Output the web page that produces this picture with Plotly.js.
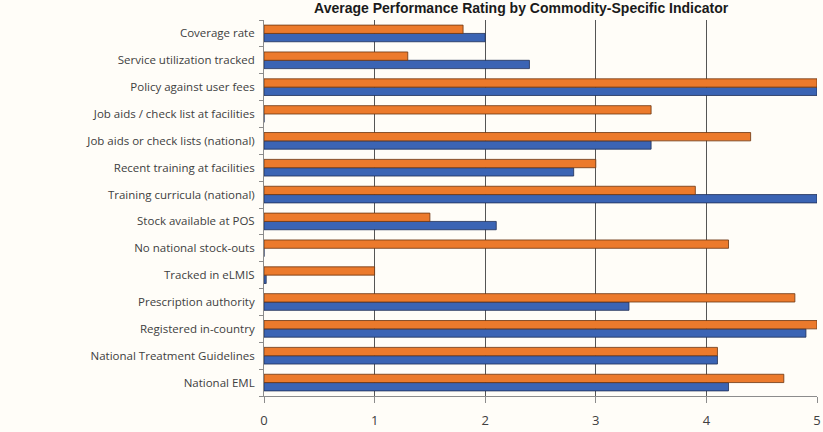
<!DOCTYPE html>
<html>
<head>
<meta charset="utf-8">
<script src="https://cdn.plot.ly/plotly-3.0.1.min.js"></script>
<style>
html,body{margin:0;padding:0;background:#fffdf8;}
#chart{width:823px;height:432px;}
</style>
</head>
<body>
<div id="chart"></div>
<script>
// categories listed bottom to top
const categories = [
  "National EML",
  "National Treatment Guidelines",
  "Registered in-country",
  "Prescription authority",
  "Tracked in eLMIS",
  "No national stock-outs",
  "Stock available at POS",
  "Training curricula (national)",
  "Recent training at facilities",
  "Job aids or check lists (national)",
  "Job aids / check list at facilities",
  "Policy against user fees",
  "Service utilization tracked",
  "Coverage rate"
];
const blueValues = [4.2, 4.1, 4.9, 3.3, 0.02, 0, 2.1, 5.0, 2.8, 3.5, 0, 5.0, 2.4, 2.0];
const orangeValues = [4.7, 4.1, 5.0, 4.8, 1.0, 4.2, 1.5, 3.9, 3.0, 4.4, 3.5, 5.0, 1.3, 1.8];
const xTicks = [0, 1, 2, 3, 4, 5];
const titleText = "Average Performance Rating by Commodity-Specific Indicator";

const traces = [
  {
    type: "bar", orientation: "h", name: "Series 2",
    y: categories, x: blueValues,
    marker: {color: "#3b64b4", line: {color: "#1f2f55", width: 0.8}}
  },
  {
    type: "bar", orientation: "h", name: "Series 1",
    y: categories, x: orangeValues,
    marker: {color: "#ec7a2c", line: {color: "#6b3510", width: 0.8}}
  }
];

const layout = {
  width: 823, height: 432,
  paper_bgcolor: "#fffdf8",
  plot_bgcolor: "#fffdf8",
  showlegend: false,
  barmode: "group",
  bargap: 0.38,
  bargroupgap: 0,
  margin: {l: 264, r: 6, t: 20, b: 36},
  title: {
    text: "<b>" + titleText + "</b>",
    font: {family: "Liberation Sans, Arial, sans-serif", size: 14, color: "#1a1a1a"},
    xref: "paper", x: 0.465, xanchor: "center",
    yref: "container", y: 1.0, yanchor: "top",
    pad: {t: 3, b: 0}
  },
  xaxis: {
    range: [0, 5],
    tickvals: xTicks,
    ticktext: xTicks.map(String),
    showgrid: true, gridcolor: "#555555", gridwidth: 1.3,
    zeroline: false,
    showline: true, linecolor: "#8c8c8c", linewidth: 1,
    ticks: "outside", ticklen: 6, tickcolor: "#8c8c8c",
    ticklabelstandoff: 6,
    tickfont: {family: "Open Sans, sans-serif", size: 13, color: "#404040"},
    fixedrange: true
  },
  yaxis: {
    type: "category",
    categoryorder: "array", categoryarray: categories,
    showgrid: false, zeroline: false,
    showline: true, linecolor: "#8c8c8c", linewidth: 1,
    ticks: "outside", ticklen: 4, tickcolor: "#8c8c8c", tickson: "boundaries",
    tickfont: {family: "Open Sans, sans-serif", size: 11.5, color: "#404040"},
    ticklabelstandoff: 6,
    fixedrange: true
  }
};

Plotly.newPlot("chart", traces, layout, {displayModeBar: false, staticPlot: true});
</script>
</body>
</html>
